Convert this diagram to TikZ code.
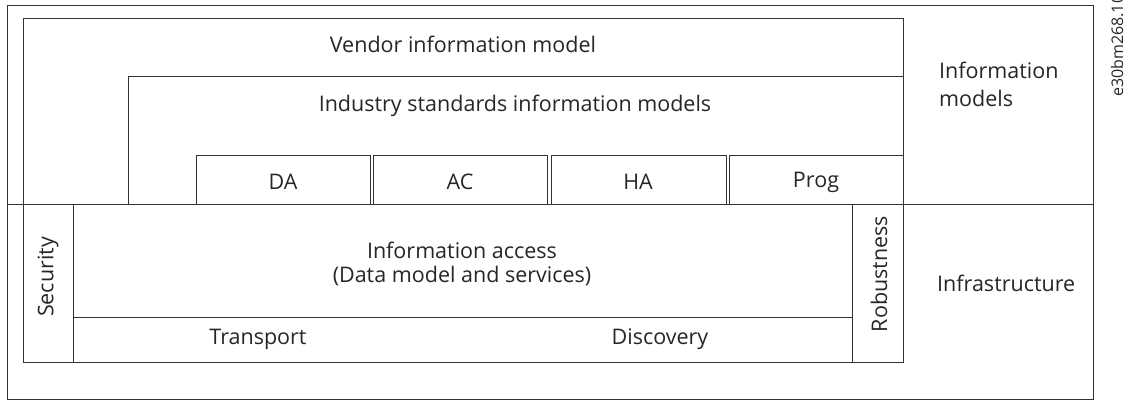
\documentclass[tikz,border=0pt]{standalone}
\usepackage{fontspec}
\setmainfont{Open Sans}
\usetikzlibrary{fit}
\begin{document}
\begin{tikzpicture}[x=1pt,y=-1pt,
  frame/.style={draw=black!80, line width=0.9pt, inner sep=0pt},
  lbl/.style={font=\fontsize{21.5}{26}\selectfont, text=black!85, inner sep=0pt},
  vlbl/.style={lbl, rotate=90},
  tag/.style={font=\fontsize{16}{19}\selectfont, text=black!85, inner sep=0pt, rotate=90, anchor=base west}]
\useasboundingbox (0,0) rectangle (1135,401);
% outer frame
\node[frame, fit={(7,5) (1093,399)}] (outer) {};
\coordinate (hl) at (7,204);
\coordinate (hr) at (1093,204);
\draw[black!80, line width=0.9pt] (hl) -- (hr);
% information model boxes
\node[frame, fit={(23,18) (903,204)}] (vendor) {};
\node[frame, fit={(128,76) (903,204)}] (industry) {};
\node[frame, fit={(196,155) (370,204)}] (da) {};
\node[frame, fit={(373,155) (547,204)}] (ac) {};
\node[frame, fit={(551,155) (726,204)}] (ha) {};
\node[frame, fit={(729,155) (903,204)}] (prog) {};
% infrastructure boxes
\node[frame, fit={(23,204) (903,362)}] (infra) {};
\node[frame, fit={(23,204) (73,362)}] (security) {};
\node[frame, fit={(852,204) (903,362)}] (robust) {};
\coordinate (tl) at (73,317);
\coordinate (tr) at (852,317);
\draw[black!80, line width=0.9pt] (tl) -- (tr);
% texts
\node[lbl] (tvendor) at (463,44) {Vendor information model};
\node[lbl] (tindustry) at (515,106) {Industry standards information models};
\node[lbl] (tda) at (283,182) {DA};
\node[lbl] (tac) at (460,182) {AC};
\node[lbl] (tha) at (638,182) {HA};
\node[lbl] (tprog) at (816,182) {Prog};
\node[lbl] (tacc1) at (462,250) {Information access};
\node[lbl] (tacc2) at (462,276) {(Data model and services)};
\node[lbl] (ttrans) at (258,339) {Transport};
\node[lbl] (tdisc) at (660,339) {Discovery};
\node[vlbl] (tsec) at (48,277) {Security};
\node[vlbl] (trob) at (879,274) {Robustness};
\node[lbl, anchor=west] (tinfra) at (937,283) {Infrastructure};
\node[lbl, anchor=west] (tim1) at (939,70) {Information};
\node[lbl, anchor=west] (tim2) at (939,98) {models};
\node[tag] (ttag) at (1123,97) {e30bm268.10};
\end{tikzpicture}
\end{document}
